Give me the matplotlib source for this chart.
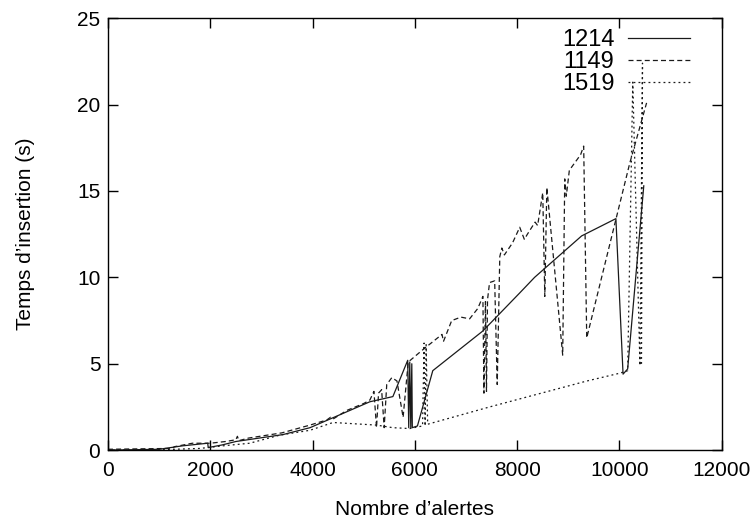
import matplotlib
matplotlib.use('Agg')
import matplotlib.pyplot as plt

### data (nombre d'alertes, temps en s)

x1214 = [0, 1000, 1460, 1950, 1960, 2230, 2500, 3420, 3950, 4730, 5120, 5570, 5860, 5880, 5900, 5920,
         5940, 5950, 6050, 6350, 7330, 8050, 8340, 9260, 9930, 10070, 10160, 10475]
y1214 = [0, 0.05, 0.25, 0.4, 0.15, 0.3, 0.5, 0.9, 1.3, 2.3, 2.8, 3.1, 5.2, 1.3, 5.1, 1.3,
         5.0, 1.3, 1.4, 4.6, 6.9, 9.1, 10.0, 12.4, 13.4, 4.4, 4.7, 15.3]

x1149 = [0, 1250, 1300, 1650, 2000, 2300, 2500, 2530, 2560, 2750, 3400, 3950, 4280, 4350, 4400,
         4670, 5000, 5120, 5200, 5250, 5290, 5350, 5400, 5450, 5550, 5650, 5770, 5870, 6150,
         6530, 6560, 6720, 6900, 7070, 7230, 7330, 7350, 7380, 7400, 7420, 7460, 7560, 7610,
         7660, 7700, 7750, 7910, 8050, 8140, 8200, 8350, 8400, 8500, 8540, 8580, 8890, 8930,
         8960, 9020, 9240, 9300, 9360, 10200, 10530]
y1149 = [0.05, 0.1, 0.2, 0.4, 0.4, 0.5, 0.6, 0.8, 0.55, 0.7, 1.0, 1.45, 1.75, 1.9, 1.8,
         2.3, 2.7, 2.9, 3.4, 1.3, 3.3, 3.5, 1.3, 3.8, 4.2, 4.0, 1.9, 5.1, 5.8,
         6.7, 6.3, 7.5, 7.7, 7.6, 8.2, 8.9, 3.3, 8.6, 3.4, 8.7, 9.7, 9.8, 3.8,
         11.2, 11.7, 11.3, 12.0, 12.9, 12.2, 12.5, 13.2, 13.0, 14.9, 8.9, 15.2, 5.5, 15.7,
         14.7, 16.2, 17.1, 17.6, 6.5, 16.6, 20.1]

x1519 = [0, 1000, 1800, 2250, 2770, 3360, 3950, 4400, 5250, 5570, 5900, 6150, 6180, 6200, 6220,
         6250, 7460, 9360, 10000, 10160, 10260, 10400, 10450, 10430]
y1519 = [0, 0.02, 0.1, 0.25, 0.4, 0.87, 1.15, 1.6, 1.45, 1.3, 1.25, 1.4, 6.2, 1.4, 6.1,
         1.5, 2.5, 4.0, 4.45, 4.6, 21.3, 4.9, 22.4, 4.9]

xTicks = [0, 2000, 4000, 6000, 8000, 10000, 12000]
yTicks = [0, 5, 10, 15, 20, 25]

### -------------------------------------------------------------------------------------------------------------------

plt.rcParams['font.family'] = ['Liberation Sans', 'DejaVu Sans']
plt.rcParams['font.size'] = 15

fig = plt.figure(figsize=(7.55, 5.21), dpi=100)
ax = fig.add_axes([0.143, 0.136, 0.813, 0.829])

lineColor = '#1a1a1a'
ax.plot(x1214, y1214, color=lineColor, lw=0.9, ls='-', label='1214')
ax.plot(x1149, y1149, color=lineColor, lw=0.9, ls=(0, (4, 2.5)), label='1149')
ax.plot(x1519, y1519, color=lineColor, lw=0.9, ls=(0, (1.5, 2.5)), label='1519')

ax.set_xlim(0, 12000)
ax.set_ylim(0, 25)
ax.set_xticks(xTicks)
ax.set_yticks(yTicks)
ax.tick_params(direction='in', top=True, right=True, length=7, width=1)
ax.tick_params(axis='x', pad=8)
ax.tick_params(axis='y', pad=5.5)
for spine in ax.spines.values():
    spine.set_linewidth(1)

ax.set_xlabel('Nombre d\u2019alertes', labelpad=14)
ax.set_ylabel('Temps d\u2019insertion (s)', labelpad=30)

ax.legend(loc='upper right', bbox_to_anchor=(0.948, 0.975), frameon=False, markerfirst=False,
          fontsize=17, handlelength=2.6, handletextpad=0.6, labelspacing=0.0,
          borderpad=0, borderaxespad=0)

fig.savefig('out.png', dpi=100)
